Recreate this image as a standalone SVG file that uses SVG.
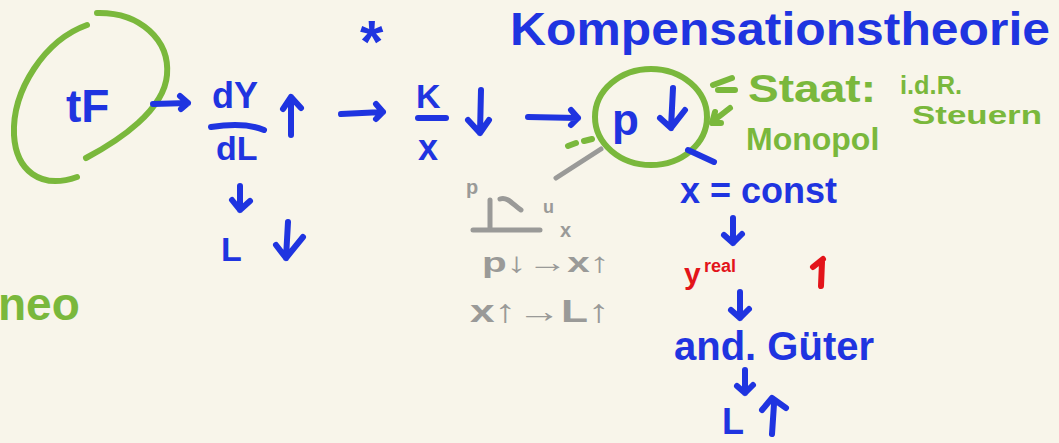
<svg xmlns="http://www.w3.org/2000/svg" width="1059" height="443" viewBox="0 0 1059 443">
<style>
.b{fill:#1f34e0;font-family:"Liberation Sans",sans-serif;font-weight:bold}
.g{fill:#7ab83c;font-family:"Liberation Sans",sans-serif;font-weight:bold}
.gr{fill:#9a9a98;font-family:"Liberation Sans",sans-serif;font-weight:bold}
.r{fill:#e3141a;font-family:"Liberation Sans",sans-serif;font-weight:bold}
.sb{stroke:#1f34e0;stroke-width:6;fill:none;stroke-linecap:round;stroke-linejoin:round}
.sg{stroke:#7ab83c;stroke-width:6;fill:none;stroke-linecap:round;stroke-linejoin:round}
.sgr{stroke:#9a9a98;stroke-width:5;fill:none;stroke-linecap:round;stroke-linejoin:round}
.sr{stroke:#e3141a;stroke-width:6;fill:none;stroke-linecap:round;stroke-linejoin:round}
</style>
<rect width="1059" height="443" fill="#f8f5ea"/>

<g id="tF">
<path class="sg" d="M87,25 C45,40 12,90 14,135 C16,170 40,190 77,177"/>
<path class="sg" d="M97,13 C140,12 170,40 167,75 C164,110 120,140 86,158"/>
<text class="b" x="66" y="122" font-size="46">tF</text>
</g>

<g id="dYdL">
<text class="b" x="212" y="108" font-size="36">dY</text>
<path class="sb" d="M211,127 C230,124 250,124 264,130"/>
<text class="b" x="216" y="160" font-size="34">dL</text>
<path class="sb" d="M291,135 L291,97 M283,109 L291,97 L301,108"/>
</g>

<g id="Ldown">
<text class="b" x="221" y="261" font-size="34">L</text>
<path class="sb" d="M288,222 L286,258 M276,245 L286,258 L303,237"/>
</g>

<g id="neo">
<text class="g" x="-2" y="320" font-size="46">neo</text>
</g>

<g id="star">
<text class="b" x="360" y="62" font-size="60">*</text>
</g>

<g id="KX">
<text class="b" x="416" y="108" font-size="34">K</text>
<path class="sb" d="M418,118 L446,118"/>
<text class="b" x="418" y="160" font-size="36">x</text>
<path class="sb" d="M481,90 L480,133 M468,120 L480,133 L489,120"/>
</g>

<g id="title">
<text class="b" x="510" y="45" font-size="46" textLength="540" lengthAdjust="spacingAndGlyphs">Kompensationstheorie</text>
</g>

<g id="pdown">
<ellipse class="sg" cx="651" cy="117" rx="56" ry="48"/>
<text class="b" x="612" y="135" font-size="44">p</text>
<path class="sb" d="M673,88 L671,128 M660,118 L671,128 L685,110"/>
<path class="sb" d="M688,150 L714,162"/>
</g>

<g id="staat">
<path class="sg" d="M713,85 L732,78 M718,90 L735,90 M712,122 L730,108 M715,112 L712,123 L721,123"/>
<text class="g" x="748" y="102" font-size="38" textLength="128" lengthAdjust="spacingAndGlyphs">Staat:</text>
<text class="g" x="900" y="94" font-size="26" textLength="62" lengthAdjust="spacingAndGlyphs">i.d.R.</text>
<text class="g" x="912" y="124" font-size="26" textLength="130" lengthAdjust="spacingAndGlyphs">Steuern</text>
<text class="g" x="746" y="150" font-size="32">Monopol</text>
</g>

<g id="graph">
<text class="gr" x="466" y="194" font-size="20">p</text>
<path class="sgr" d="M490,200 L490,229 M473,230 L540,230 M500,199 C508,196 514,206 521,210"/>
<text class="gr" x="543" y="213" font-size="18">u</text>
<text class="gr" x="560" y="237" font-size="20">x</text>
<text class="gr" x="482" y="272" font-size="28" textLength="128" lengthAdjust="spacingAndGlyphs">p↓→x↑</text>
<text class="gr" x="470" y="322" font-size="32" textLength="140" lengthAdjust="spacingAndGlyphs">x↑→L↑</text>
</g>

<g id="xconst">
<text class="b" x="680" y="203" font-size="36">x = const</text>
</g>

<g id="yreal">
<text class="r" x="684" y="284" font-size="30">y</text>
<text class="r" x="704" y="272" font-size="18">real</text>
<path class="sr" d="M821,286 L822,262 M813,267 L823,259"/>
</g>

<g id="andGueter">
<text class="b" x="674" y="360" font-size="40">and. Güter</text>
</g>

<g id="Lup">
<text class="b" x="722" y="434" font-size="36">L</text>
<path class="sb" d="M772,434 L774,404 M762,410 L772,398 L786,408"/>
</g>

<g id="connectors">
<path class="sb" d="M153,104 L188,103 M180,96 L188,103 L181,109"/>
<path class="sb" d="M341,114 L383,112 M376,104 L383,112 L376,119"/>
<path class="sb" d="M528,117 L578,118 M571,110 L578,118 L571,125"/>
<path class="sb" d="M240,186 L240,210 M232,200 L240,210 L250,201"/>
<path class="sb" d="M733,218 L733,243 M724,235 L733,243 L742,234"/>
<path class="sb" d="M740,292 L740,318 M731,310 L740,318 L749,309"/>
<path class="sb" d="M745,370 L745,393 M737,386 L745,393 L753,385"/>
<path class="sgr" d="M601,149 L556,178"/>
<path class="sg" d="M568,146 L576,143 M584,141 L592,139"/>
</g>
</svg>
